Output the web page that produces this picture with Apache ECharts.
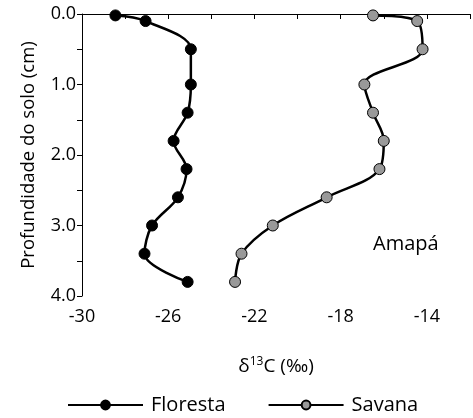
<!DOCTYPE html>
<html><head><meta charset="utf-8">
<script src="https://cdn.jsdelivr.net/npm/echarts@6/dist/echarts.min.js"></script>
<style>html,body{margin:0;padding:0;background:#fff}#c{width:473px;height:418px}</style>
</head><body><div id="c"></div>
<script>
const depths = [0.02, 0.1, 0.5, 1.0, 1.4, 1.8, 2.2, 2.6, 3.0, 3.4, 3.8];
const florestaD13C = [-28.45, -27.05, -24.95, -24.95, -25.1, -25.75, -25.15, -25.55, -26.75, -27.1, -25.1];
const savanaD13C = [-16.5, -14.45, -14.2, -16.9, -16.5, -16.0, -16.2, -18.65, -21.15, -22.6, -22.9];
const xTicks = [-30, -26, -22, -18, -14];
const yTicks = [0, 1, 2, 3, 4];

const F = "'Open Sans', sans-serif";
const chart = echarts.init(document.getElementById('c'));
const pairs = (xs) => xs.map((v, i) => [v, depths[i]]);
chart.setOption({
  animation: false,
  grid: { left: 82, top: 14, right: 3, bottom: 122 },
  xAxis: {
    type: 'value', min: -30, max: -12, interval: 2,
    splitLine: { show: false },
    axisLine: { lineStyle: { color: '#000', width: 1 } },
    axisTick: { lineStyle: { color: '#000' }, length: 5 },
    axisLabel: { color: '#000', fontFamily: F, fontSize: 18, margin: 12,
      formatter: v => xTicks.includes(v) ? String(v) : '' },
    name: '{d|δ}{s|13}{d|C (‰)}', nameLocation: 'middle', nameGap: 60,
    nameTextStyle: { rich: {
      d: { fontFamily: F, fontSize: 19, color: '#000' },
      s: { fontFamily: F, fontSize: 12, color: '#000', verticalAlign: 'top', padding: [0,0,9,0] }
    } }
  },
  yAxis: {
    type: 'value', min: 0, max: 4, interval: 0.5, inverse: true,
    splitLine: { show: false },
    axisLine: { show: true, lineStyle: { color: '#000', width: 1 } },
    axisTick: { show: true, lineStyle: { color: '#000' }, length: 5 },
    axisLabel: { color: '#000', fontFamily: F, fontSize: 18, margin: 6,
      formatter: v => yTicks.includes(v) ? v.toFixed(1) : '' },
    name: 'Profundidade do solo (cm)', nameLocation: 'middle', nameGap: 44, nameRotate: 90,
    nameTextStyle: { fontFamily: F, fontSize: 18.5, color: '#000' }
  },
  legend: {
    top: 390, left: 62, itemWidth: 75, itemHeight: 11, itemGap: 42,
    textStyle: { fontFamily: F, fontSize: 20, color: '#000', padding: [0,0,0,3] },
    data: ['Floresta', 'Savana']
  },
  graphic: [{ type: 'text', left: 373, top: 234,
    style: { text: 'Amapá', font: "20px 'Open Sans', sans-serif", fill: '#000' } }],
  series: [
    { name: 'Floresta', type: 'line', data: pairs(florestaD13C), smooth: 0.35,
      symbol: 'circle', symbolSize: 11,
      lineStyle: { color: '#000', width: 2.5 },
      itemStyle: { color: '#000', borderColor: '#000', borderWidth: 1 } },
    { name: 'Savana', type: 'line', data: pairs(savanaD13C), smooth: 0.35,
      symbol: 'circle', symbolSize: 11,
      lineStyle: { color: '#000', width: 2.5 },
      itemStyle: { color: '#999', borderColor: '#000', borderWidth: 1 } }
  ]
});
</script></body></html>
